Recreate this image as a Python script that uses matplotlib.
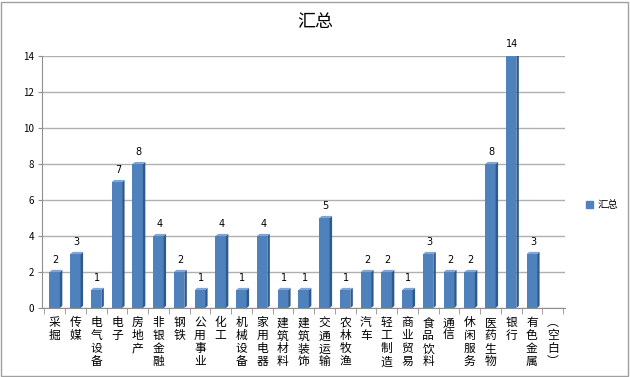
import matplotlib
matplotlib.use("Agg")
import matplotlib.pyplot as plt
from matplotlib.patches import Polygon, Rectangle

plt.rcParams['font.family'] = ['Noto Sans CJK SC', 'DejaVu Sans']

categories = ['采掘', '传媒', '电气设备', '电子', '房地产', '非银金融', '钢铁', '公用事业',
              '化工', '机械设备', '家用电器', '建筑材料', '建筑装饰', '交通运输', '农林牧渔',
              '汽车', '轻工制造', '商业贸易', '食品饮料', '通信', '休闲服务', '医药生物',
              '银行', '有色金属', '︵空白︶']
values = [2, 3, 1, 7, 8, 4, 2, 1, 4, 1, 4, 1, 1, 5, 1, 2, 2, 1, 3, 2, 2, 8, 14, 3, None]

fig = plt.figure(figsize=(6.3, 3.77), dpi=100)
fig.patches.append(Rectangle((0.002, 0.003), 0.995, 0.993, transform=fig.transFigure,
                             fill=False, edgecolor='#a0a0a0', lw=1))
ax = fig.add_axes([0.067, 0.183, 0.83, 0.668])

front = '#4f81bd'
side = '#2f5a8c'
top = '#7ea6d8'
w = 0.5
d = 0.12
for i, v in enumerate(values):
    if v is None:
        continue
    x0 = i - w / 2
    ax.bar(i, v, width=w, color=front, zorder=3)
    ax.add_patch(Polygon([(x0 + w, 0), (x0 + w + d, 0.12), (x0 + w + d, v + 0.12), (x0 + w, v)],
                         closed=True, facecolor=side, edgecolor='none', zorder=3))
    ax.add_patch(Polygon([(x0, v), (x0 + d, v + 0.12), (x0 + w + d, v + 0.12), (x0 + w, v)],
                         closed=True, facecolor=top, edgecolor='none', zorder=3))
    ax.text(i + 0.05, v + 0.4, str(v), ha='center', va='bottom', fontsize=7, color='black',
            family='DejaVu Sans')

ax.set_xlim(-0.6, len(categories) - 0.4)
ax.set_ylim(0, 14)
ax.set_yticks(range(0, 15, 2))
ax.tick_params(axis='y', labelsize=7, length=3, color='#909090', pad=3)
ax.set_xticks(range(len(categories)))
ax.set_xticklabels(['\n'.join(c) for c in categories], fontsize=8.5, linespacing=1.0, va='top')
ax.set_xticks([i + 0.5 for i in range(-1, len(categories))], minor=True)
ax.tick_params(axis='x', which='minor', length=4, color='#909090')
ax.tick_params(axis='x', which='major', length=0, pad=6)
ax.grid(axis='y', color='#b0b0b0', lw=1, zorder=0)
for s in ['top', 'right']:
    ax.spines[s].set_visible(False)
ax.spines['left'].set_color('#909090')
ax.spines['bottom'].set_color('#909090')

fig.text(0.5, 0.942, '汇总', fontsize=13, ha='center', va='center')

fig.legend(handles=[Rectangle((0, 0), 1, 1, color=front)], labels=['汇总'],
           loc='center left', bbox_to_anchor=(0.915, 0.456), frameon=False,
           fontsize=7.5, handlelength=0.7, handleheight=0.7, handletextpad=0.4)

fig.savefig('out.png', dpi=100)
